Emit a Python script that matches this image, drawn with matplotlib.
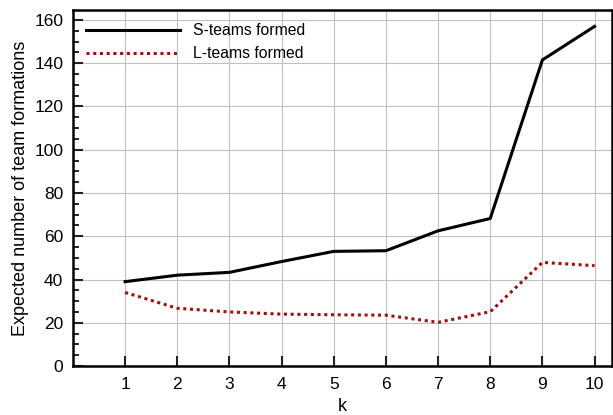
import numpy as np
import matplotlib.pyplot as plt
from matplotlib.ticker import MultipleLocator

plt.rcParams['font.family'] = ['Liberation Sans', 'DejaVu Sans']

k = [1, 2, 3, 4, 5, 6, 7, 8, 9, 10]
s_teams = [39, 42, 43.3, 48.3, 53, 53.3, 62.5, 68.2, 141.5, 157]
l_teams = [34, 26.7, 25, 24, 23.7, 23.5, 20.2, 25.1, 47.9, 46.4]

fig = plt.figure(figsize=(6.13, 4.15), dpi=100)
ax = fig.add_axes([0.119, 0.118, 0.879, 0.858])

ax.plot(k, s_teams, color='black', lw=2.2, label='S-teams formed')
ax.plot(k, l_teams, color='#a01010', lw=2.2, linestyle=(0, (1, 1.2)), label='L-teams formed')

ax.set_xlim(0, 10.33)
ax.set_ylim(0, 164.6)
ax.set_xticks(k)
ax.yaxis.set_major_locator(MultipleLocator(20))
ax.yaxis.set_minor_locator(MultipleLocator(5))
ax.grid(True, color='#c0c0c0', lw=0.8)
ax.set_axisbelow(True)

ax.tick_params(axis='both', which='major', direction='in', length=7, width=1.5, labelsize=12.5, color='#202030')
ax.tick_params(axis='y', which='minor', direction='in', length=4, width=1.2)
ax.tick_params(axis='x', which='major', pad=8)
ax.tick_params(axis='y', which='major', pad=7)
for sp in ax.spines.values():
    sp.set_linewidth(1.8)

ax.set_xlabel('k', fontsize=13, labelpad=4)
ax.set_ylabel('Expected number of team formations', fontsize=13, labelpad=4)

ax.legend(loc='upper left', frameon=False, fontsize=11.3, handlelength=6.0,
          borderaxespad=0.45, labelspacing=0.5, handletextpad=0.8)

fig.savefig('out.png', dpi=100)
